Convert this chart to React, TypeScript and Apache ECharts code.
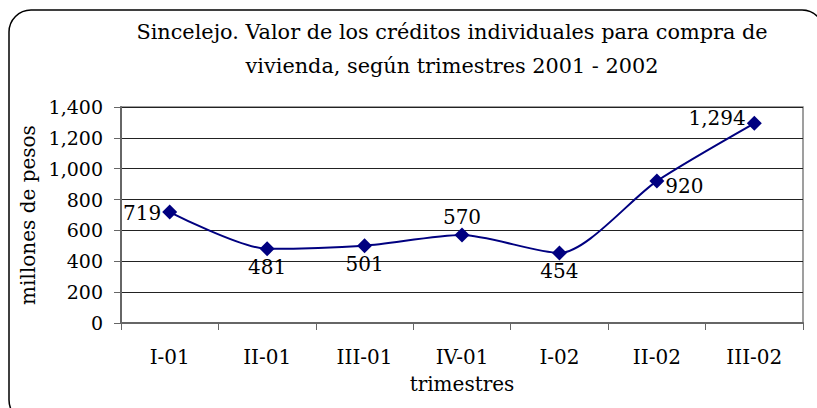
import React, { useEffect, useRef } from "react";
import * as echarts from "echarts";

const categories = ["I-01", "II-01", "III-01", "IV-01", "I-02", "II-02", "III-02"];
const values = [719, 481, 501, 570, 454, 920, 1294];
const labelPositions = ["left", "bottom", "bottom", "top", "bottom", "right", "left"];
const labelOffsets = [[0, 1], [0, 0], [0, 0], [0, 0], [0, 0], [0, 5], [0, -5]];
const titleLines = [
  "Sincelejo. Valor de los créditos individuales para compra de",
  "vivienda, según trimestres 2001 - 2002",
];
const yName = "millones de pesos";
const xName = "trimestres";

const FONT = "DejaVu Serif";

export default function App() {
  const ref = useRef<HTMLDivElement>(null);
  useEffect(() => {
    if (!ref.current) return;
    const chart = echarts.init(ref.current, undefined, { renderer: "svg" });
    chart.setOption({
      animation: false,
      backgroundColor: "#fff",
      title: {
        text: titleLines.join("\n"),
        left: 452,
        textAlign: "center",
        top: 15,
        padding: 0,
        textStyle: {
          fontFamily: FONT,
          fontWeight: "normal",
          fontSize: 20.8,
          lineHeight: 34,
          color: "#000",
        },
      },
      graphic: [
        {
          type: "rect",
          shape: { x: 9, y: 10, width: 815, height: 412, r: 22 },
          style: { fill: "none", stroke: "#000", lineWidth: 1.5 },
          silent: true,
        },
      ],
      grid: {
        left: 121,
        right: 14,
        top: 107,
        bottom: 85,
        show: true,
        borderColor: "#808080",
        borderWidth: 1.5,
      },
      xAxis: {
        type: "category",
        data: categories,
        boundaryGap: true,
        name: xName,
        nameLocation: "middle",
        nameGap: 51,
        nameTextStyle: { fontFamily: FONT, fontSize: 20, color: "#000" },
        axisLine: { lineStyle: { color: "#666", width: 2 } },
        axisTick: { show: true, length: 7, lineStyle: { color: "#666" } },
        axisLabel: { fontFamily: FONT, fontSize: 20, color: "#000", margin: 24 },
      },
      yAxis: {
        type: "value",
        min: 0,
        max: 1400,
        interval: 200,
        name: yName,
        nameLocation: "middle",
        nameGap: 75,
        nameRotate: 90,
        nameTextStyle: { fontFamily: FONT, fontSize: 20, color: "#000" },
        axisLine: { show: true, lineStyle: { color: "#666", width: 2 } },
        axisTick: { show: true, length: 7, lineStyle: { color: "#666" } },
        axisLabel: {
          fontFamily: FONT,
          fontSize: 19,
          color: "#000",
          margin: 18,
          formatter: (v: number) => v.toLocaleString("en-US"),
        },
        splitLine: { lineStyle: { color: "#222", width: 1 } },
      },
      series: [
        {
          type: "line",
          data: values.map((v, i) => ({
            value: v,
            label: { position: labelPositions[i], offset: labelOffsets[i] },
          })),
          smooth: 0.25,
          symbol: "diamond",
          symbolSize: 15,
          itemStyle: { color: "#000080" },
          lineStyle: { color: "#000080", width: 2 },
          label: {
            show: true,
            fontFamily: FONT,
            fontSize: 20,
            color: "#000",
            distance: 1,
            formatter: (p: any) => Number(p.value).toLocaleString("en-US"),
          },
        },
      ],
    });
    return () => chart.dispose();
  }, []);
  return (
    <div
      ref={ref}
      style={{ position: "fixed", left: 0, top: 0, width: 817, height: 408 }}
    />
  );
}
